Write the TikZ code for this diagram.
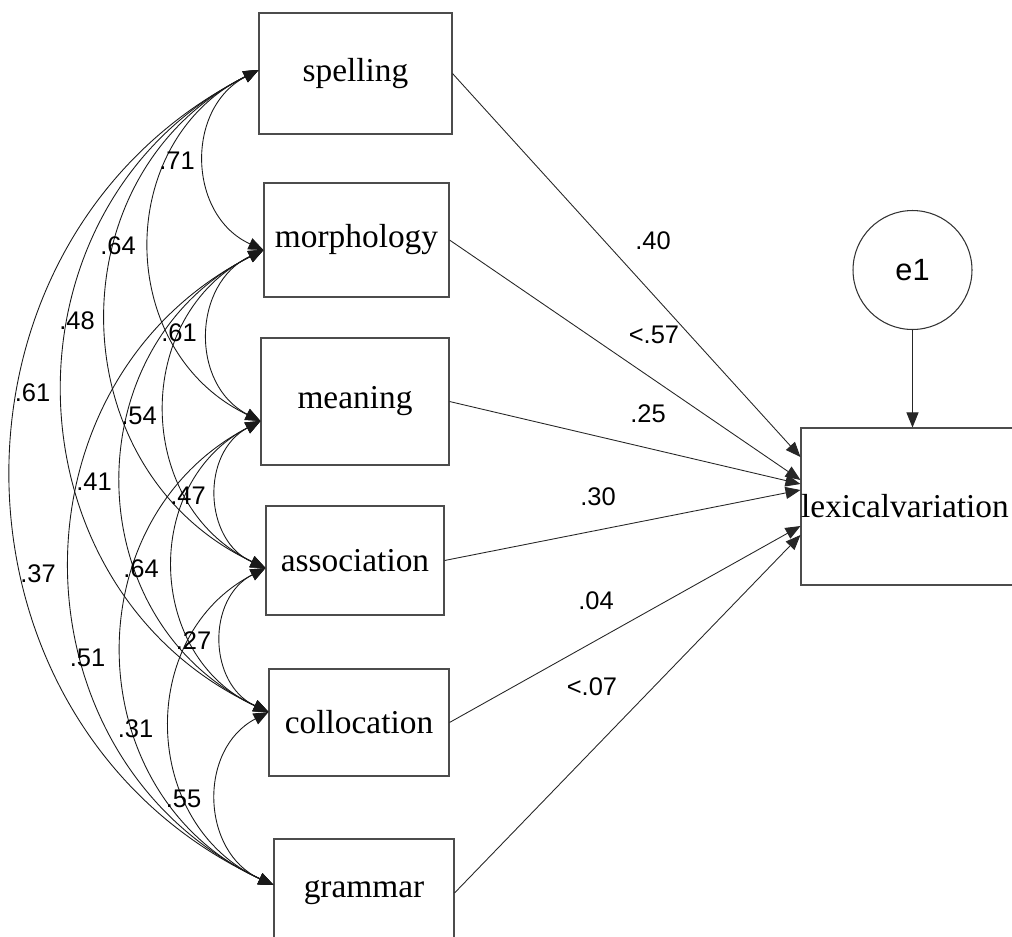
\documentclass[tikz,border=0pt]{standalone}
\usepackage{fontspec}
\setmainfont{Liberation Serif}
\newfontfamily\coeffont{Liberation Sans}
\usetikzlibrary{arrows.meta}
\tikzset{
  var/.style={draw=black!70, line width=0.6pt, inner sep=0pt, font=\fontsize{19}{22}\selectfont},
  err/.style={draw=black!80, circle, line width=0.6pt, inner sep=0pt, font=\coeffont\fontsize{17.5}{20}\selectfont},
  coef/.style={inner sep=0pt, font=\coeffont\fontsize{14.5}{17}\selectfont},
  reg/.style={draw=black!85, line width=0.5pt, -{Triangle[length=0.3cm,width=0.24cm]}},
  cov/.style={draw=black!90, line width=0.5pt, {Triangle[length=0.3cm,width=0.24cm]}-{Triangle[length=0.3cm,width=0.24cm]}, bend right=64, looseness=1.18}
}
\begin{document}
\begin{tikzpicture}[x=0.02cm,y=-0.02cm]
    \useasboundingbox (0,0) rectangle (1012,937);
    \node[var, minimum width=3.86cm, minimum height=2.42cm] (spelling) at (355.5,73.5) {spelling};
    \node[var, minimum width=3.7cm, minimum height=2.28cm] (morphology) at (356.5,240) {morphology};
    \node[var, minimum width=3.76cm, minimum height=2.54cm] (meaning) at (355,401.5) {meaning};
    \node[var, minimum width=3.56cm, minimum height=2.18cm] (association) at (355,560.5) {association};
    \node[var, minimum width=3.6cm, minimum height=2.14cm] (collocation) at (359,722.5) {collocation};
    \node[var, minimum width=3.6cm, minimum height=2.16cm] (grammar) at (364,893) {grammar};
    \node[var, minimum width=4.46cm, minimum height=3.14cm,
      label={[font=\fontsize{19}{22}\selectfont, xshift=-0.15cm]center:lexicalvariation}] (lex) at (912.5,506.5) {};
    \node[err, minimum size=2.38cm] (e1) at (912.5,270) {e1};
    \coordinate (cs) at (spelling.west |- 0,70);
    \coordinate (cmo) at (morphology.west |- 0,250);
    \coordinate (cme) at (meaning.west |- 0,421);
    \coordinate (ca) at (association.west |- 0,568);
    \coordinate (cc) at (collocation.west |- 0,712);
    \coordinate (cg) at (grammar.west |- 0,885);
    \draw[reg] (e1) -- (lex);
    \draw[reg] (spelling.east) -- (lex.west |- 0,457);
    \draw[reg] (morphology.east) -- (lex.west |- 0,480);
    \draw[reg] (meaning.east) -- (lex.west |- 0,484);
    \draw[reg] (association.east) -- (lex.west |- 0,490);
    \draw[reg] (collocation.east) -- (lex.west |- 0,526);
    \draw[reg] (grammar.east) -- (lex.west |- 0,535);
    \draw[cov] (cs) to (cmo);
    \draw[cov] (cs) to (cme);
    \draw[cov] (cs) to (ca);
    \draw[cov] (cs) to (cc);
    \draw[cov] (cs) to (cg);
    \draw[cov] (cmo) to (cme);
    \draw[cov] (cmo) to (ca);
    \draw[cov] (cmo) to (cc);
    \draw[cov] (cmo) to (cg);
    \draw[cov] (cme) to (ca);
    \draw[cov] (cme) to (cc);
    \draw[cov] (cme) to (cg);
    \draw[cov] (ca) to (cc);
    \draw[cov] (ca) to (cg);
    \draw[cov] (cc) to (cg);
    \node[coef] (r40) at (653,240.5) {.40};
    \node[coef] (r57) at (654,335) {<.57};
    \node[coef] (r25) at (648,414) {.25};
    \node[coef] (r30) at (598,497) {.30};
    \node[coef] (r04) at (596,600.5) {.04};
    \node[coef] (r07) at (592,687) {<.07};
    \node[coef] (c71) at (177,161) {.71};
    \node[coef] (c64a) at (118,245.5) {.64};
    \node[coef] (c48) at (77,320.5) {.48};
    \node[coef] (c61a) at (179,333) {.61};
    \node[coef] (c61b) at (32.5,393) {.61};
    \node[coef] (c54) at (139,416) {.54};
    \node[coef] (c41) at (94,482) {.41};
    \node[coef] (c47) at (188,496) {.47};
    \node[coef] (c37) at (38,574) {.37};
    \node[coef] (c64b) at (141,569) {.64};
    \node[coef] (c27) at (193.5,640.5) {.27};
    \node[coef] (c51) at (87.5,658) {.51};
    \node[coef] (c31) at (135.5,728.5) {.31};
    \node[coef] (c55) at (183.5,799) {.55};
\end{tikzpicture}
\end{document}
